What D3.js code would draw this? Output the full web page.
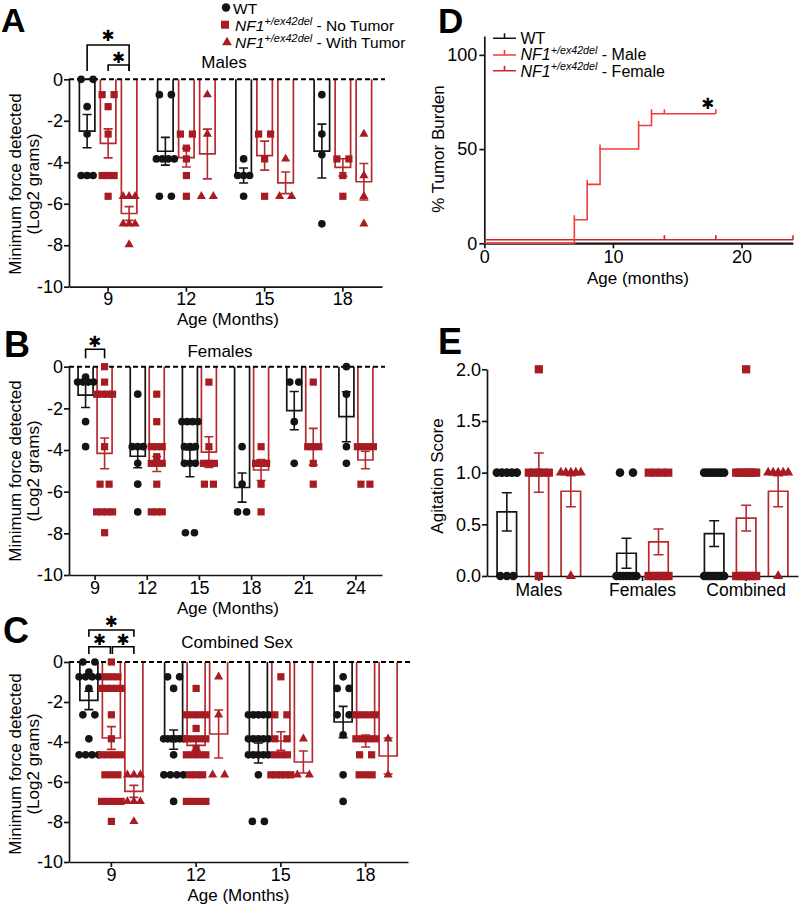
<!DOCTYPE html>
<html>
<head>
<meta charset="utf-8">
<script src="https://cdn.jsdelivr.net/npm/d3@7/dist/d3.min.js"></script>
<style>
  html,body{margin:0;padding:0;background:#fff;}
  svg{display:block;}
</style>
</head>
<body>
<svg id="fig" width="800" height="904" xmlns="http://www.w3.org/2000/svg"></svg>
<script>
// ======================= DATA =======================
// ---- Panel A : Males, minimum force (log2 g) ----
const aAges = [9, 12, 15, 18];
const aWT_points = [
  [0, 0, -1.32, -2.64, -4.64, -4.64, -4.64],
  [-0.74, -0.74, -3.84, -3.84, -3.84, -3.84, -5.64, -5.64],
  [-3.84, -4.64, -4.64, -4.64, -5.64],
  [-0.74, -2.64, -3.64, -6.97]
];
const aWT_mean = [-2.5, -3.47, -4.64, -3.46];
const aWT_sem  = [0.8, 0.67, 0.36, 1.3];
const aNT_points = [
  [-0.74, -0.74, -1.32, -2.64, -4.64, -4.64, -4.64, -5.64],
  [-2.64, -2.64, -3.32, -3.84, -4.64, -5.64],
  [-2.64, -2.64, -3.84, -5.64],
  [-3.84, -3.84, -4.64, -5.64]
];
const aNT_mean = [-3.09, -3.78, -3.68, -4.25];
const aNT_sem  = [0.7, 0.45, 0.7, 0.42];
const aT_points = [
  [-5.64, -5.64, -5.64, -6.97, -6.97, -6.97, -7.97],
  [-0.74, -2.64, -5.64, -5.64],
  [-3.84, -5.64, -5.64],
  [-2.64, -4.64, -5.64, -6.97]
];
const aT_mean = [-6.47, -3.6, -4.99, -4.94];
const aT_sem  = [0.33, 1.2, 0.52, 0.88];
const aSig = [["WT", "With Tumor"], ["No Tumor", "With Tumor"]];

// ---- Panel B : Females ----
const bAges = [9, 12, 15, 18, 21, 24];
const bWT_points = [
  [-0.5, -0.74, -0.74, -0.74, -0.74, -2.64, -3.84],
  [-1.32, -3.84, -3.84, -3.84, -4.64, -5.64, -6.97],
  [-2.64, -2.64, -2.64, -2.64, -3.84, -3.84, -3.84, -4.64, -4.64, -4.64, -7.97, -7.97],
  [-3.84, -5.64, -6.97, -6.97],
  [-0.74, -0.74, -2.64, -4.64],
  [0, -1.32, -3.84, -4.64]
];
const bWT_mean = [-1.36, -4.3, -4.64, -5.8, -2.11, -2.4];
const bWT_sem  = [0.6, 0.55, 0.64, 0.7, 0.92, 1.2];
const bNF_points = [
  [0, -0.74, -1.32, -1.32, -1.32, -1.32, -3.84, -5.64, -5.64, -6.97, -6.97, -6.97, -6.97, -7.97],
  [-1.32, -2.64, -3.84, -3.84, -3.84, -4.32, -4.64, -4.64, -4.64, -5.64, -6.97, -6.97, -6.97],
  [-0.74, -3.84, -4.64, -4.64, -4.64, -5.64, -5.64],
  [-3.84, -4.64, -4.64, -4.64, -5.64, -6.97],
  [-0.74, -3.84, -3.84, -3.84, -4.64, -5.64],
  [-3.84, -3.84, -3.84, -3.84, -5.64, -5.64]
];
const bNF_mean = [-4.16, -4.67, -4.1, -4.96, -3.84, -4.48];
const bNF_sem  = [0.74, 0.36, 0.74, 0.5, 0.88, 0.42];
const bSig = [["WT", "NF1"]];

// ---- Panel C : Combined sex ----
const cAges = [9, 12, 15, 18];
const cWT_points = [
  [0, 0, -0.5, -0.74, -0.74, -0.74, -0.74, -1.32, -2.64, -2.64, -3.84, -4.64, -4.64, -4.64, -4.64],
  [-0.74, -0.74, -1.32, -3.84, -3.84, -3.84, -3.84, -3.84, -3.84, -4.64, -5.64, -5.64, -5.64, -5.64, -6.97],
  [-2.64, -2.64, -2.64, -2.64, -2.64, -3.84, -3.84, -3.84, -3.84, -3.84, -4.64, -4.64, -4.64, -4.64, -4.64, -5.64, -7.97, -7.97],
  [-0.74, -1.32, -1.32, -2.64, -2.64, -3.64, -5.64, -6.97]
];
const cWT_mean = [-1.92, -3.88, -4.55, -3.0];
const cWT_sem  = [0.46, 0.48, 0.5, 0.78];
const cNT_points = [
  [0, -0.74, -0.74, -0.74, -1.32, -1.32, -1.32, -1.32, -1.32, -2.64, -3.84, -4.64, -4.64, -4.64, -4.64, -5.64, -5.64, -5.64, -6.97, -6.97, -6.97, -6.97, -7.97],
  [-1.32, -2.64, -2.64, -2.64, -2.64, -3.32, -3.84, -3.84, -3.84, -3.84, -4.32, -4.64, -4.64, -4.64, -4.64, -5.64, -5.64, -5.64, -6.97, -6.97, -6.97, -6.97],
  [-0.74, -2.64, -2.64, -3.84, -3.84, -4.64, -4.64, -4.64, -5.64, -5.64, -5.64, -5.64, -5.64],
  [-2.64, -2.64, -2.64, -2.64, -3.84, -3.84, -3.84, -3.84, -4.64, -4.64, -5.64, -5.64, -5.64]
];
const cNT_mean = [-3.8, -4.17, -3.95, -3.95];
const cNT_sem  = [0.57, 0.25, 0.46, 0.3];
const cT_points = [
  [-5.64, -5.64, -5.64, -6.97, -6.97, -6.97, -7.97],
  [-0.74, -2.64, -5.64, -5.64],
  [-3.84, -5.64, -5.64],
  [-3.84, -5.64]
];
const cT_mean = [-6.47, -3.6, -5.0, -4.7];
const cT_sem  = [0.3, 1.2, 0.55, 0.9];
const cSig = [["WT", "With Tumor"], ["WT", "No Tumor"], ["No Tumor", "With Tumor"]];

// ---- Panel D : tumor burden (Kaplan-Meier style) ----
const dWT_time = [0, 24];
const dWT_pct  = [0, 0];
const dMale_time = [0, 7, 8, 9, 12, 13, 18];
const dMale_pct  = [0, 12.5, 31.25, 50, 62.5, 68.75, 68.75];
const dMale_censor = [7, 8, 9, 12, 13, 14, 18];
const dFemale_time = [0, 24];
const dFemale_pct  = [0, 0];
const dFemale_censor = [14, 18, 24];

// ---- Panel E : agitation score ----
const eGroups = ["Males", "Females", "Combined"];
const eWT_points = [
  [1, 1, 1, 1, 1, 0, 0, 0],
  [1, 1, 0, 0, 0, 0, 0, 0, 0],
  [1, 1, 1, 1, 1, 1, 1, 0, 0, 0, 0, 0, 0, 0, 0, 0, 0]
];
const eWT_mean = [0.62, 0.22, 0.41];
const eWT_sem  = [0.185, 0.145, 0.125];
const eNT_points = [
  [2, 1, 1, 1, 1, 1, 0],
  [1, 1, 1, 1, 0, 0, 0, 0, 0, 0, 0, 0],
  [2, 1, 1, 1, 1, 1, 1, 1, 1, 0, 0, 0, 0, 0, 0, 0, 0, 0]
];
const eNT_mean = [1.0, 0.33, 0.56];
const eNT_sem  = [0.19, 0.125, 0.125];
const eT_points = [
  [1, 1, 1, 1, 1, 0],
  null,
  [1, 1, 1, 1, 1, 0]
];
const eT_mean = [0.82, null, 0.82];
const eT_sem  = [0.15, null, 0.15];

// ======================= DRAWING =======================
const FONT = '"Liberation Sans", Arial, Helvetica, sans-serif';
const INK = "#141414";
const RED_MARK = "#a61c22";
const RED_LINE = "#b52a2e";
const svg = d3.select("#fig").attr("font-family", FONT);
svg.append("rect").attr("width", 800).attr("height", 904).attr("fill", "#fff");

function sym(shape, sizes) {
  const t = shape === "circle" ? d3.symbolCircle : shape === "square" ? d3.symbolSquare : d3.symbolTriangle;
  return d3.symbol().type(t).size(sizes[shape])();
}

function spread(values, o) {
  const groups = d3.group(values, v => v.toFixed(2));
  const out = [];
  for (const [k, arr] of groups) {
    const n = arr.length;
    let offs;
    if (n === 1) offs = [0];
    else if (n === 2) offs = [-o.pair / 2, o.pair / 2];
    else {
      const w = Math.min((n - 1) * o.step, o.max);
      offs = d3.range(n).map(i => -w / 2 + i * w / (n - 1));
    }
    offs.forEach(dx => out.push({ v: +k, dx }));
  }
  return out;
}

function styleAxis(ax, fs) {
  ax.attr("font-size", fs).attr("font-family", FONT);
  ax.select(".domain").attr("stroke", INK).attr("stroke-width", 1.7);
  ax.selectAll(".tick line").attr("stroke", INK).attr("stroke-width", 1.7);
  ax.selectAll(".tick text").attr("fill", "#000");
}

function panelLetter(t, x, y, fs) {
  svg.append("text").attr("x", x).attr("y", y).attr("font-size", fs || 36).attr("font-weight", "bold")
    .attr("fill", "#000").text(t);
}

// significance star: heavy asterisk glyph, vertically centred on cy
function star(x, cy, fs) {
  svg.append("text").attr("x", x).attr("y", cy).attr("text-anchor", "middle")
    .attr("dominant-baseline", "central").attr("font-family", '"DejaVu Sans", sans-serif')
    .attr("font-size", fs).attr("fill", "#000").text("\u2731");
}
const STAR_FS = 15.5;

function drawBarPanel(cfg) {
  const g = svg.append("g");
  const x = d3.scaleBand().domain(cfg.categories).range([cfg.x0, cfg.x1]);
  const y = d3.scaleLinear().domain(cfg.yDomain).range([cfg.yBot, cfg.yTop]);
  const base = y(0);
  const gBars = g.append("g"), gRef = g.append("g"), gAx = g.append("g"), gErr = g.append("g"), gPts = g.append("g");
  const centers = {};
  cfg.categories.forEach((cat, ci) => {
    const present = cfg.series.filter(s => s.mean[ci] != null);
    const half = (present.length - 1) / 2 * cfg.step;
    const sub = d3.scalePoint().domain(present.map(s => s.name)).range([-half, half]);
    centers[cat] = {};
    present.forEach(s => {
      const cx = x(cat) + x.bandwidth() / 2 + sub(s.name);
      centers[cat][s.name] = cx;
      const m = s.mean[ci], e = s.sem[ci];
      const l = cx - cfg.bw / 2, r = cx + cfg.bw / 2;
      gBars.append("path").attr("d", `M${l},${base}V${y(m)}H${r}V${base}`)
        .attr("fill", "none").attr("stroke", s.line).attr("stroke-width", 1.7);
      const cw = cfg.cap / 2;
      gErr.append("path")
        .attr("d", `M${cx},${y(m + e)}V${y(m - e)}M${cx - cw},${y(m + e)}H${cx + cw}M${cx - cw},${y(m - e)}H${cx + cw}`)
        .attr("fill", "none").attr("stroke", s.line).attr("stroke-width", 1.6);
      spread(s.points[ci], cfg.spread).forEach(p => {
        gPts.append("path").attr("transform", `translate(${cx + p.dx},${y(p.v)})`)
          .attr("d", sym(s.shape, cfg.msize)).attr("fill", s.color);
      });
    });
  });
  if (cfg.zeroDash) {
    gRef.append("line").attr("x1", cfg.x0).attr("x2", cfg.x1 + 3).attr("y1", base).attr("y2", base)
      .attr("stroke", "#000").attr("stroke-width", 2).attr("stroke-dasharray", "5,3");
  }
  const ya = gAx.append("g").attr("transform", `translate(${cfg.x0},0)`)
    .call(d3.axisLeft(y).tickValues(cfg.yTicks).tickFormat(cfg.yFormat).tickSize(5).tickPadding(cfg.yPad).tickSizeOuter(0));
  styleAxis(ya, cfg.tickFs);
  const xa = gAx.append("g").attr("transform", `translate(0,${cfg.yBot})`)
    .call(d3.axisBottom(x).tickSize(5).tickPadding(cfg.xPad).tickSizeOuter(0));
  styleAxis(xa, cfg.xTickFs);

  const cy = cfg.yLabelCY;
  cfg.yLabel.forEach((t, i) => {
    g.append("text").attr("transform", `translate(${cfg.yLabelX[i]},${cy}) rotate(-90)`)
      .attr("text-anchor", "middle").attr("font-size", 17).attr("fill", "#000").text(t);
  });
  if (cfg.xLabel) {
    g.append("text").attr("x", cfg.xLabelX).attr("y", cfg.yBot + 38.5).attr("text-anchor", "middle")
      .attr("font-size", 17).attr("fill", "#000").text(cfg.xLabel);
  }
  if (cfg.title) {
    g.append("text").attr("x", cfg.titleX).attr("y", cfg.titleY).attr("text-anchor", "middle")
      .attr("font-size", 17).attr("fill", "#000").text(cfg.title);
  }
  (cfg.sig || []).forEach((pair, i) => {
    const lay = cfg.sigLayout[i];
    const cat = cfg.categories[0];
    const xa1 = centers[cat][pair[0]] + (lay.inL || 0), xb1 = centers[cat][pair[1]] - (lay.inR || 0);
    g.append("path").attr("d", `M${xa1},${lay.leg}V${lay.bar}H${xb1}V${lay.leg}`)
      .attr("fill", "none").attr("stroke", "#000").attr("stroke-width", 1.6);
    star((xa1 + xb1) / 2, lay.star, STAR_FS);
  });
  return { x, y };
}

const abcSizes = { circle: 46, square: 52, triangle: 36 };
const logTicks = [0, -2, -4, -6, -8, -10];
const fmtInt = d => String(d);

// ---------- Panel A ----------
drawBarPanel({
  categories: aAges, x0: 69, x1: 382, yTop: 79.3, yBot: 286.7, yDomain: [-10, 0],
  yTicks: logTicks, yFormat: fmtInt, yPad: 1, xPad: 1, tickFs: 18, xTickFs: 18,
  step: 21, bw: 15.5, cap: 9, msize: abcSizes,
  spread: { pair: 12, step: 6, max: 18 }, zeroDash: true,
  series: [
    { name: "WT", mean: aWT_mean, sem: aWT_sem, points: aWT_points, shape: "circle", color: INK, line: INK },
    { name: "No Tumor", mean: aNT_mean, sem: aNT_sem, points: aNT_points, shape: "square", color: RED_MARK, line: RED_LINE },
    { name: "With Tumor", mean: aT_mean, sem: aT_sem, points: aT_points, shape: "triangle", color: RED_MARK, line: RED_LINE }
  ],
  yLabel: ["Minimum force detected", "(Log2 grams)"], yLabelX: [21, 39], yLabelCY: 184,
  xLabel: "Age (Months)", xLabelX: 228, title: "Males", titleX: 224, titleY: 68,
  sig: aSig,
  sigLayout: [{ bar: 45, leg: 71, star: 35.5 }, { bar: 65, leg: 71, star: 57.5 }]
});

// ---------- Panel B ----------
drawBarPanel({
  categories: bAges, x0: 69, x1: 382, yTop: 366.7, yBot: 575, yDomain: [-10, 0],
  yTicks: logTicks, yFormat: fmtInt, yPad: 1, xPad: 1, tickFs: 18, xTickFs: 18,
  step: 19, bw: 15, cap: 9, msize: abcSizes,
  spread: { pair: 9, step: 5.5, max: 16 }, zeroDash: true,
  series: [
    { name: "WT", mean: bWT_mean, sem: bWT_sem, points: bWT_points, shape: "circle", color: INK, line: INK },
    { name: "NF1", mean: bNF_mean, sem: bNF_sem, points: bNF_points, shape: "square", color: RED_MARK, line: RED_LINE }
  ],
  yLabel: ["Minimum force detected", "(Log2 grams)"], yLabelX: [21, 39], yLabelCY: 471,
  xLabel: "Age (Months)", xLabelX: 228, title: "Females", titleX: 220, titleY: 357,
  sig: bSig,
  sigLayout: [{ bar: 349.3, leg: 358.3, star: 341.5 }]
});

// ---------- Panel C ----------
drawBarPanel({
  categories: cAges, x0: 69, x1: 408, yTop: 662, yBot: 862, yDomain: [-10, 0],
  yTicks: logTicks, yFormat: fmtInt, yPad: 1, xPad: 1, tickFs: 18, xTickFs: 18,
  step: 22.5, bw: 18, cap: 9, msize: abcSizes,
  spread: { pair: 12, step: 6.5, max: 20 }, zeroDash: true,
  series: [
    { name: "WT", mean: cWT_mean, sem: cWT_sem, points: cWT_points, shape: "circle", color: INK, line: INK },
    { name: "No Tumor", mean: cNT_mean, sem: cNT_sem, points: cNT_points, shape: "square", color: RED_MARK, line: RED_LINE },
    { name: "With Tumor", mean: cT_mean, sem: cT_sem, points: cT_points, shape: "triangle", color: RED_MARK, line: RED_LINE }
  ],
  yLabel: ["Minimum force detected", "(Log2 grams)"], yLabelX: [21, 39], yLabelCY: 764,
  xLabel: "Age (Months)", xLabelX: 238.5, title: "Combined Sex", titleX: 237, titleY: 648,
  sig: cSig,
  sigLayout: [{ bar: 630, leg: 636.7, star: 621.5 }, { bar: 646.7, leg: 654, star: 640, inR: 1 }, { bar: 646.7, leg: 654, star: 640, inL: 1 }]
});

// ---------- Panel E ----------
drawBarPanel({
  categories: eGroups, x0: 487, x1: 798, yTop: 369.3, yBot: 576, yDomain: [0, 2],
  yTicks: [0, 0.5, 1, 1.5, 2], yFormat: d3.format(".1f"), yPad: 1, xPad: 3, tickFs: 18, xTickFs: 17.5,
  step: 32, bw: 19.5, cap: 10, msize: { circle: 58, square: 68, triangle: 44 },
  spread: { pair: 13, step: 6.5, max: 20 }, zeroDash: false,
  series: [
    { name: "WT", mean: eWT_mean, sem: eWT_sem, points: eWT_points, shape: "circle", color: INK, line: INK },
    { name: "No Tumor", mean: eNT_mean, sem: eNT_sem, points: eNT_points, shape: "square", color: RED_MARK, line: RED_LINE },
    { name: "With Tumor", mean: eT_mean, sem: eT_sem, points: eT_points, shape: "triangle", color: RED_MARK, line: RED_LINE }
  ],
  yLabel: ["Agitation Score"], yLabelX: [443], yLabelCY: 476
});

// ---------- Panel D ----------
(function drawD() {
  const MALE = "#ef3d3d", FEMALE = "#c4282d";
  const x = d3.scaleLinear().domain([0, 24]).range([484.3, 793]);
  const y = d3.scaleLinear().domain([0, 110]).range([243.3, 36]);
  const g = svg.append("g");
  const ya = g.append("g").attr("transform", `translate(${x(0)},0)`)
    .call(d3.axisLeft(y).tickValues([0, 50, 100]).tickSize(5).tickPadding(2).tickSizeOuter(0));
  styleAxis(ya, 18);
  const xa = g.append("g").attr("transform", `translate(0,${y(0)})`)
    .call(d3.axisBottom(x).tickValues([0, 10, 20]).tickSize(5).tickPadding(2).tickSizeOuter(0));
  styleAxis(xa, 18);

  const line = d3.line().x(d => x(d[0])).y(d => y(d[1])).curve(d3.curveStepAfter);
  const level = (times, pcts, t) => { let v = pcts[0]; times.forEach((tt, i) => { if (tt <= t) v = pcts[i]; }); return v; };
  const femaleOffset = -3.6; // display offset so overlapping curves remain visible

  g.append("path").attr("d", line(d3.zip(dWT_time, dWT_pct))).attr("fill", "none")
    .attr("stroke", INK).attr("stroke-width", 1.6);
  const gf = g.append("g").attr("transform", `translate(0,${femaleOffset})`);
  gf.append("path").attr("d", line(d3.zip(dFemale_time, dFemale_pct))).attr("fill", "none")
    .attr("stroke", FEMALE).attr("stroke-width", 1.6);
  dFemale_censor.forEach(t => {
    const yy = y(level(dFemale_time, dFemale_pct, t));
    gf.append("path").attr("d", `M${x(t)},${yy}V${yy - 4.5}`).attr("stroke", FEMALE).attr("stroke-width", 1.6);
  });
  g.append("path").attr("d", line(d3.zip(dMale_time, dMale_pct))).attr("fill", "none")
    .attr("stroke", MALE).attr("stroke-width", 1.6);
  dMale_censor.forEach(t => {
    const yy = y(level(dMale_time, dMale_pct, t));
    g.append("path").attr("d", `M${x(t)},${yy}V${yy - 4.5}`).attr("stroke", MALE).attr("stroke-width", 1.6);
  });
  star(x(17.4), y(74), STAR_FS);

  g.append("text").attr("transform", `translate(444,149) rotate(-90)`).attr("text-anchor", "middle")
    .attr("font-size", 17).attr("fill", "#000").text("% Tumor Burden");
  g.append("text").attr("x", 638).attr("y", 284).attr("text-anchor", "middle")
    .attr("font-size", 17).attr("fill", "#000").text("Age (months)");

  const leg = [
    { c: INK, y: 38.3, ty: 43.5, parts: [["WT", false]] },
    { c: MALE, y: 55, ty: 60, parts: [["NF1", true], ["+/ex42del", true, true], [" - Male", false]] },
    { c: FEMALE, y: 70.7, ty: 76.7, parts: [["NF1", true], ["+/ex42del", true, true], [" - Female", false]] }
  ];
  leg.forEach(L => {
    g.append("path").attr("d", `M493,${L.y}H516M504.5,${L.y}V${L.y - 5}`).attr("stroke", L.c)
      .attr("stroke-width", 1.6).attr("fill", "none");
    const t = g.append("text").attr("x", 520.5).attr("y", L.ty).attr("font-size", 16).attr("fill", "#000");
    let raised = false;
    L.parts.forEach(p => {
      const ts = t.append("tspan").text(p[0]);
      if (p[1]) ts.attr("font-style", "italic");
      if (p[2]) { ts.attr("font-size", 10.7).attr("dy", -6.5); raised = true; }
      else if (raised) { ts.attr("dy", 6.5); raised = false; }
    });
  });
})();

// ---------- Legend for panel A ----------
(function legendA() {
  const rows = [
    { shape: "circle", c: INK, mx: 226, my: 7.5, ty: 13.5, tx: 233, parts: [["WT", false]] },
    { shape: "square", c: RED_MARK, mx: 225, my: 24.7, ty: 30.8, tx: 235, parts: [["NF1", true], ["+/ex42del", true, true], [" - No Tumor", false]] },
    { shape: "triangle", c: RED_MARK, mx: 227, my: 42.5, ty: 48.3, tx: 235, parts: [["NF1", true], ["+/ex42del", true, true], [" - With Tumor", false]] }
  ];
  const sizes = { circle: 56, square: 64, triangle: 42 };
  rows.forEach(r => {
    svg.append("path").attr("transform", `translate(${r.mx},${r.my})`).attr("d", sym(r.shape, sizes)).attr("fill", r.c);
    const t = svg.append("text").attr("x", r.tx).attr("y", r.ty).attr("font-size", 15.5).attr("fill", "#000");
    let raised = false;
    r.parts.forEach(p => {
      const ts = t.append("tspan").text(p[0]);
      if (p[1]) ts.attr("font-style", "italic");
      if (p[2]) { ts.attr("font-size", 11).attr("dy", -6); raised = true; }
      else if (raised) { ts.attr("dy", 6); raised = false; }
    });
  });
})();

// ---------- Panel letters ----------
panelLetter("A", 1, 31.5, 34);
panelLetter("B", 4, 357);
panelLetter("C", 3, 643);
panelLetter("D", 438, 33, 35);
panelLetter("E", 438, 354);
</script>
</body>
</html>
